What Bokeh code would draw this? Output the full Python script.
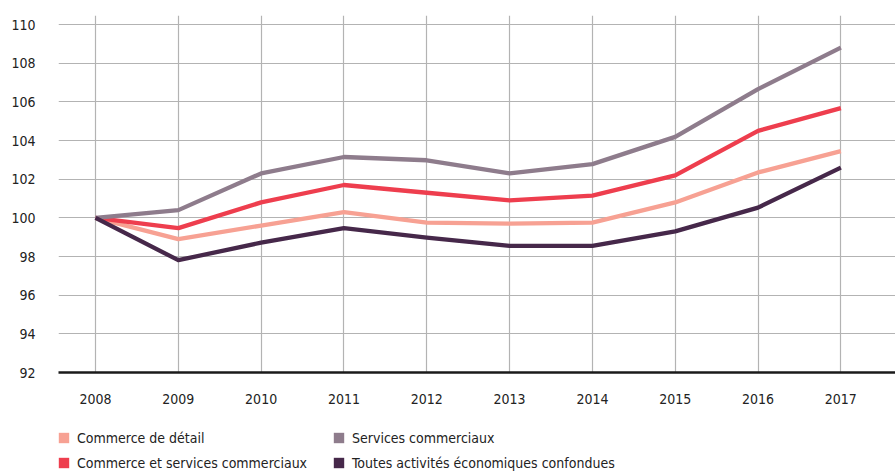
from bokeh.plotting import figure
from bokeh.layouts import column
from bokeh.models import Range1d, FixedTicker, Legend, LegendItem, ColumnDataSource
from bokeh.embed import file_html
from bokeh.resources import INLINE

years = [2008, 2009, 2010, 2011, 2012, 2013, 2014, 2015, 2016, 2017]
commerce_detail = [100.0, 98.9, 99.6, 100.3, 99.75, 99.7, 99.75, 100.8, 102.35, 103.45]
commerce_services = [100.0, 99.47, 100.8, 101.7, 101.3, 100.9, 101.15, 102.2, 104.5, 105.68]
services_commerciaux = [100.0, 100.4, 102.3, 103.15, 102.98, 102.3, 102.78, 104.19, 106.66, 108.81]
toutes_activites = [100.0, 97.81, 98.72, 99.47, 98.98, 98.55, 98.55, 99.3, 100.53, 102.6]
y_ticks = [92, 94, 96, 98, 100, 102, 104, 106, 108, 110]

series = [
    ("Commerce de détail", commerce_detail, "#F7A193"),
    ("Commerce et services commerciaux", commerce_services, "#EE3E4E"),
    ("Services commerciaux", services_commerciaux, "#8E7C8C"),
    ("Toutes activités économiques confondues", toutes_activites, "#46284A"),
]

FONT = "DejaVu Sans Condensed"

p = figure(width=895, height=408, output_backend="svg", toolbar_location=None,
           x_range=Range1d(2007.553, 2017.66), y_range=Range1d(92, 110.47),
           min_border_left=58, min_border_right=0, min_border_top=15, min_border_bottom=36)
p.outline_line_color = None
p.background_fill_color = "white"
p.border_fill_color = "white"

for ax in (p.xaxis[0], p.yaxis[0]):
    ax.major_tick_line_color = None
    ax.minor_tick_line_color = None
    ax.major_label_text_font = FONT
    ax.major_label_text_font_size = "14px"
    ax.major_label_text_color = "#222222"

p.xaxis[0].ticker = FixedTicker(ticks=years)
p.xaxis[0].axis_line_color = "#1a1a1a"
p.xaxis[0].axis_line_width = 2.5
p.xaxis[0].major_label_standoff = 15
p.yaxis[0].ticker = FixedTicker(ticks=y_ticks)
p.yaxis[0].axis_line_color = None
p.yaxis[0].major_label_standoff = 17

p.xgrid[0].grid_line_color = "#b3b3b3"
p.ygrid[0].grid_line_color = "#b3b3b3"
p.xgrid[0].grid_line_width = 1.2
p.ygrid[0].grid_line_width = 1.2

for name, vals, col in series:
    src = ColumnDataSource(dict(x=years, y=vals))
    p.line("x", "y", source=src, line_color=col, line_width=4.3, line_join="round")

# legend figure (swatch renderers are zero-area quads built from the series, outside the view)
p2 = figure(width=895, height=63, output_backend="svg", toolbar_location=None,
            x_range=Range1d(0, 1), y_range=Range1d(0, 1),
            x_axis_location=None, y_axis_location=None,
            min_border_left=58, min_border_right=0, min_border_top=0, min_border_bottom=0)
p2.grid.visible = False
p2.outline_line_color = None

items = []
for name, vals, col in series:
    src = ColumnDataSource(dict(l=years, r=years, t=vals, b=vals))
    sw = p2.quad(left="l", right="r", top="t", bottom="b", source=src,
                 fill_color=col, line_color=None)
    items.append(LegendItem(label=name, renderers=[sw]))

legend = Legend(items=items, orientation="vertical", nrows=2, location=(-1, 0),
                margin=0, padding=0, spacing=8, glyph_width=13, glyph_height=13,
                label_standoff=7, label_width=247, label_height=17,
                label_text_font=FONT, label_text_font_size="14px",
                label_text_color="#222222", border_line_color=None,
                background_fill_alpha=0)
p2.add_layout(legend)

layout = column(p, p2, spacing=0)
open("out.html", "w").write(file_html(layout, INLINE))
